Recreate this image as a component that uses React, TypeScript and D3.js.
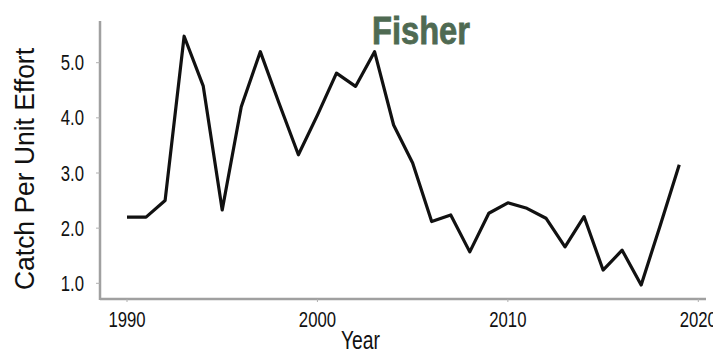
import React from "react";
import * as d3 from "d3";

const years = [1990,1991,1992,1993,1994,1995,1996,1997,1998,1999,2000,2001,2002,2003,2004,2005,2006,2007,2008,2009,2010,2011,2012,2013,2014,2015,2016,2017,2018,2019];
const cpue = [2.2,2.2,2.5,5.48,4.58,2.33,4.2,5.2,4.25,3.33,4.05,4.81,4.57,5.2,3.87,3.18,2.12,2.24,1.57,2.27,2.46,2.36,2.18,1.66,2.21,1.24,1.6,0.97,2.05,3.15];
const xTicks = [1990, 2000, 2010, 2020];
const yTicks = [1, 2, 3, 4, 5];
const title = "Fisher";
const xTitle = "Year";
const yTitle = "Catch Per Unit Effort";

const W = 713, H = 354;
const FONT = "'Liberation Sans', Arial, sans-serif";

export default function App() {
  const x = d3.scaleLinear().domain([1990, 2020]).range([127, 698.3]);
  const y = d3.scaleLinear().domain([1, 5]).range([283.3, 62.7]);
  const line = d3.line<number>().x((_, i) => x(years[i])).y((d) => y(d));
  const axisY = 299;
  const axisX = 100;
  return (
    <svg width={W} height={H} style={{ position: "absolute", left: 0, top: 0, background: "#fff" }}>
      <line x1={axisX} x2={axisX} y1={21} y2={axisY + 1} stroke="#a0a0a0" strokeWidth={2.5} />
      <line x1={axisX} x2={706} y1={axisY} y2={axisY} stroke="#a0a0a0" strokeWidth={2.5} />
      {yTicks.map((t) => (
        <g key={t}>
          <line x1={axisX - 4} x2={axisX} y1={y(t)} y2={y(t)} stroke="#b0b0b0" strokeWidth={1} />
          <g transform={`translate(84,${y(t) + 7.5}) scale(0.76,1)`}>
            <text textAnchor="end" fontFamily={FONT} fontSize={22} fill="#111">{t.toFixed(1)}</text>
          </g>
        </g>
      ))}
      {xTicks.map((t) => (
        <g key={t}>
          <line x1={x(t)} x2={x(t)} y1={axisY} y2={axisY + 3} stroke="#b0b0b0" strokeWidth={1} />
          <g transform={`translate(${x(t)},${327}) scale(0.76,1)`}>
            <text textAnchor="middle" fontFamily={FONT} fontSize={22} fill="#111">{t}</text>
          </g>
        </g>
      ))}
      <path d={line(cpue) || ""} fill="none" stroke="#111" strokeWidth={3.2} strokeLinejoin="round" />
      <text x={372} y={44} fontFamily={FONT} fontWeight="bold" fontSize={38} fill="#4f6a52" stroke="#4f6a52" strokeWidth={0.8} textLength={98} lengthAdjust="spacingAndGlyphs">{title}</text>
      <text x={341} y={349} fontFamily={FONT} fontSize={25} fill="#111" textLength={39} lengthAdjust="spacingAndGlyphs">{xTitle}</text>
      <text transform="translate(34,290) rotate(-90)" fontFamily={FONT} fontSize={27} fill="#111" textLength={242} lengthAdjust="spacingAndGlyphs">{yTitle}</text>
    </svg>
  );
}
